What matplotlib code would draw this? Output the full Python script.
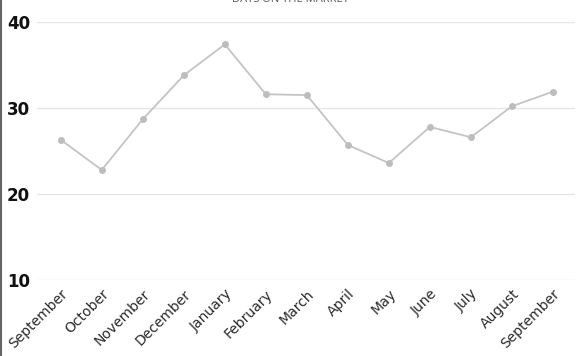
import matplotlib.pyplot as plt
from matplotlib.lines import Line2D

months = ['September', 'October', 'November', 'December', 'January', 'February',
          'March', 'April', 'May', 'June', 'July', 'August', 'September']
days = [26.3, 22.8, 28.7, 33.8, 37.4, 31.6, 31.5, 25.7, 23.6, 27.8, 26.6, 30.2, 31.9]
yticks = [10, 20, 30, 40]

fig = plt.figure(figsize=(5.77, 3.56), dpi=100)
W, H = 577, 356
ax = fig.add_axes([37 / W, 1 - 280 / H, (575 - 37) / W, (280 - 22) / H])

x = list(range(len(months)))
ax.plot(x, days, color='#c4c4c4', linewidth=1.3, marker='o', markersize=4,
        markerfacecolor='#bdbdbd', markeredgecolor='#bdbdbd')

ax.set_xlim(-0.58, len(months) - 1 + 0.54)
ax.set_ylim(10, 40)
ax.set_yticks(yticks)
ax.set_yticklabels([str(t) for t in yticks], fontsize=12, fontweight='bold',
                   family='DejaVu Sans', color='#111111')
ax.set_xticks(x)
ax.set_xticklabels(months, rotation=45, ha='right', rotation_mode='anchor',
                   fontsize=10, family='DejaVu Sans', color='#2a2a2a')
ax.tick_params(axis='both', length=0)
ax.tick_params(axis='y', pad=5)
ax.tick_params(axis='x', pad=5)
ax.grid(axis='y', color='#e6e6e6', linewidth=1)
ax.set_axisbelow(True)
for s in ax.spines.values():
    s.set_visible(False)

fig.text(290 / W, 1, 'DAYS ON THE MARKET', ha='center', va='center',
         fontsize=8, family='Open Sans', color='#555555')
fig.add_artist(Line2D([0.5 / W, 0.5 / W], [0, 1], transform=fig.transFigure,
                      color='#666666', linewidth=1.5))

fig.savefig('out.png', dpi=100)
